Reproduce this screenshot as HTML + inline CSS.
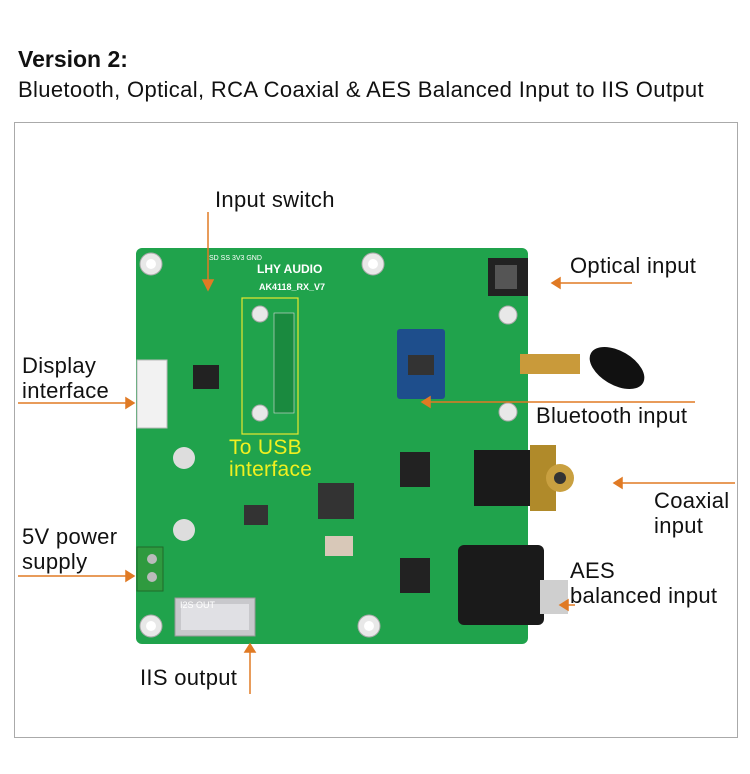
<!DOCTYPE html>
<html><head><meta charset="utf-8"><style>
body{margin:0;width:750px;height:774px;background:#fff;position:relative;overflow:hidden;font-family:"Liberation Sans",sans-serif;}
.a{position:absolute}
.t{position:absolute;color:#111;font-size:22px;line-height:25px;white-space:nowrap;letter-spacing:0.3px}
</style></head><body>
<div class="t" style="left:18px;top:47px;font-size:23px;font-weight:bold;letter-spacing:0">Version 2:</div>
<div class="t" style="left:18px;top:77px;font-size:22px;letter-spacing:0.35px">Bluetooth, Optical, RCA Coaxial &amp; AES Balanced Input to IIS Output</div>
<div class="a" style="left:14px;top:122px;width:722px;height:614px;border:1px solid #aaa"></div>
<svg class="a" style="left:0;top:0" width="750" height="774">
<rect x="136" y="248" width="392" height="396" rx="6" fill="#20a34c"/>
<g fill="#e8e8e8" stroke="#aaa"><circle cx="151" cy="264" r="11"/><circle cx="373" cy="264" r="11"/><circle cx="151" cy="626" r="11"/><circle cx="369" cy="626" r="11"/><circle cx="508" cy="315" r="9"/><circle cx="508" cy="412" r="9"/><circle cx="260" cy="314" r="8"/><circle cx="260" cy="413" r="8"/></g>
<g fill="#fff"><circle cx="151" cy="264" r="5"/><circle cx="373" cy="264" r="5"/><circle cx="151" cy="626" r="5"/><circle cx="369" cy="626" r="5"/></g>
<text x="257" y="273" fill="#fff" font-size="12" font-weight="bold" font-family="Liberation Sans">LHY AUDIO</text>
<text x="259" y="290" fill="#fff" font-size="9" font-weight="bold" font-family="Liberation Sans">AK4118_RX_V7</text>
<rect x="242" y="298" width="56" height="136" fill="none" stroke="#e8e830" stroke-width="1.2"/>
<rect x="274" y="313" width="20" height="100" fill="#1a8a3f" stroke="#ddd" stroke-width="0.6"/>
<rect x="137" y="360" width="30" height="68" fill="#f2f2f2" stroke="#bbb"/>
<rect x="193" y="365" width="26" height="24" fill="#222"/>
<rect x="397" y="329" width="48" height="70" rx="3" fill="#1e4e8c"/>
<rect x="408" y="355" width="26" height="20" fill="#333"/>
<rect x="318" y="483" width="36" height="36" fill="#333"/>
<rect x="244" y="505" width="24" height="20" fill="#333"/>
<rect x="400" y="452" width="30" height="35" fill="#222"/>
<rect x="400" y="558" width="30" height="35" fill="#222"/>
<rect x="325" y="536" width="28" height="20" fill="#d8c8b8"/>
<circle cx="184" cy="458" r="11" fill="#ddd"/><circle cx="184" cy="530" r="11" fill="#ddd"/>
<rect x="137" y="547" width="26" height="44" fill="#2f9a3f" stroke="#1f6a2a"/>
<circle cx="152" cy="559" r="5" fill="#bbb"/><circle cx="152" cy="577" r="5" fill="#bbb"/>
<rect x="175" y="598" width="80" height="38" fill="#c8c8cc" stroke="#999"/>
<rect x="181" y="604" width="68" height="26" fill="#e0e0e4"/>
<rect x="488" y="258" width="40" height="38" fill="#222"/><rect x="495" y="265" width="22" height="24" fill="#555"/>
<rect x="474" y="450" width="60" height="56" fill="#1a1a1a"/>
<rect x="530" y="445" width="26" height="66" fill="#b08a2a"/><circle cx="560" cy="478" r="14" fill="#c9a040"/><circle cx="560" cy="478" r="6" fill="#333"/>
<rect x="458" y="545" width="86" height="80" rx="6" fill="#1a1a1a"/><rect x="540" y="580" width="28" height="34" fill="#cfcfcf"/>
<rect x="520" y="354" width="60" height="20" fill="#c99a3a"/>
<ellipse cx="617" cy="368" rx="30" ry="17" fill="#111" transform="rotate(30 617 368)"/>
<text x="209" y="260" fill="#fff" font-size="7" font-family="Liberation Sans">SD SS 3V3 GND</text>
<text x="180" y="608" fill="#fff" font-size="9" font-family="Liberation Sans">I2S OUT</text>
<g stroke="#e07a24" stroke-width="1.5" fill="#e07a24">
<line x1="208" y1="212" x2="208" y2="282"/><path d="M203 280 L213 280 L208 290 Z"/>
<line x1="18" y1="403" x2="128" y2="403"/><path d="M126 398 L126 408 L134 403 Z"/>
<line x1="558" y1="283" x2="632" y2="283"/><path d="M560 278 L560 288 L552 283 Z"/>
<line x1="428" y1="402" x2="695" y2="402"/><path d="M430 397 L430 407 L422 402 Z"/>
<line x1="620" y1="483" x2="735" y2="483"/><path d="M622 478 L622 488 L614 483 Z"/>
<line x1="18" y1="576" x2="128" y2="576"/><path d="M126 571 L126 581 L134 576 Z"/>
<line x1="566" y1="605" x2="575" y2="605"/><path d="M568 600 L568 610 L560 605 Z"/>
<line x1="250" y1="650" x2="250" y2="694"/><path d="M245 652 L255 652 L250 644 Z"/>
</g>
</svg>
<div class="t" style="left:215px;top:187px">Input switch</div>
<div class="t" style="left:570px;top:253px">Optical input</div>
<div class="t" style="left:22px;top:353px">Display<br>interface</div>
<div class="t" style="left:536px;top:403px">Bluetooth input</div>
<div class="t" style="left:229px;top:437px;color:#f0f020;font-size:21px;line-height:22px">To USB<br>interface</div>
<div class="t" style="left:654px;top:488px">Coaxial<br>input</div>
<div class="t" style="left:22px;top:524px">5V power<br>supply</div>
<div class="t" style="left:570px;top:558px">AES<br>balanced input</div>
<div class="t" style="left:140px;top:665px">IIS output</div>
</body></html>
